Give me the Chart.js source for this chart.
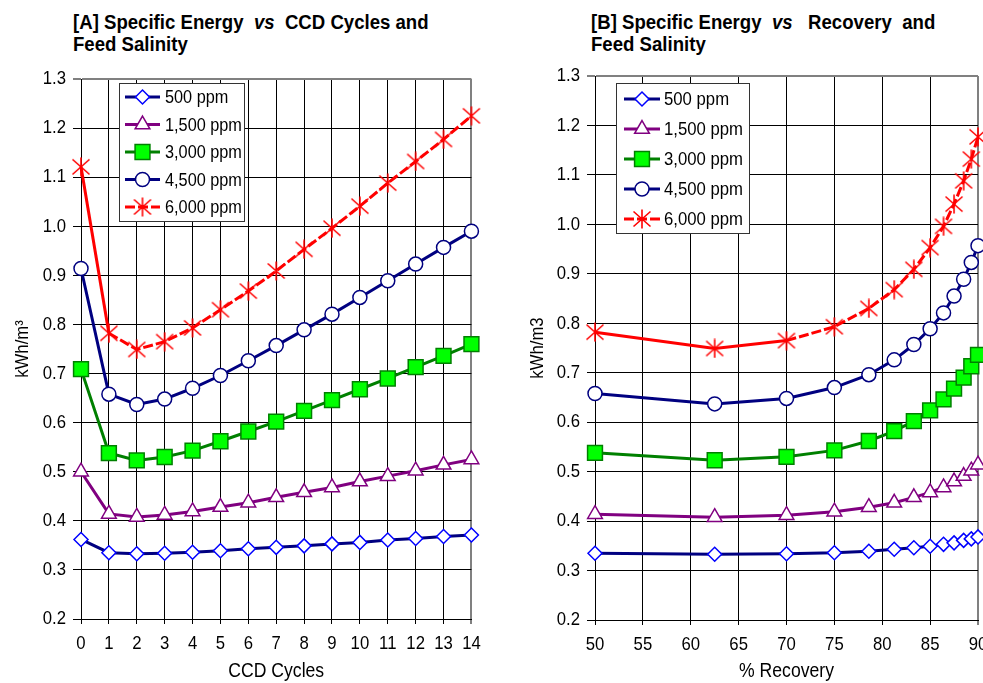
<!DOCTYPE html>
<html>
<head>
<meta charset="utf-8">
<script src="https://cdn.jsdelivr.net/npm/chart.js@4/dist/chart.umd.min.js"></script>
<style>
  html, body { margin: 0; padding: 0; background: #fff; overflow: hidden; }
  #wrap { position: relative; width: 983px; height: 683px; overflow: hidden; background: #fff; }
  .title {
    position: absolute;
    font-family: "Liberation Sans", Arial, sans-serif;
    font-weight: bold; font-size: 20px; line-height: 22px; color: #000; white-space: pre;
    transform: scaleX(0.93); transform-origin: left top;
  }
  .panel { position: absolute; top: 0; height: 683px; }
</style>
</head>
<body>
<div id="wrap">
  <div class="title" style="left:73px; top:11px;">[A] Specific Energy  <i>vs</i>  CCD Cycles and
Feed Salinity</div>
  <div class="title" style="left:591px; top:11px;">[B] Specific Energy  <i>vs</i>   Recovery  and
Feed Salinity</div>
  <div class="panel" style="left:0; width:490px;"><canvas id="chartA"></canvas></div>
  <div class="panel" style="left:515px; width:505px;"><canvas id="chartB"></canvas></div>
</div>
<script>
// CCD cycle count and the overall recovery (%) reached at that cycle count
const cycles   = [0, 1, 2, 3, 4, 5, 6, 7, 8, 9, 10, 11, 12, 13, 14];
const recovery = [null, 50, 62.5, 70, 75, 78.6, 81.25, 83.3, 85, 86.4, 87.5, 88.5, 89.3, 90, 90.6];

// Specific energy (kWh/m3) per feed salinity, one value per CCD cycle count
const se500  = [0.362, 0.335, 0.333, 0.334, 0.336, 0.339, 0.343, 0.346, 0.349, 0.353, 0.356, 0.361, 0.364, 0.368, 0.371];
const se1500 = [0.500, 0.414, 0.408, 0.412, 0.419, 0.428, 0.437, 0.448, 0.458, 0.468, 0.480, 0.491, 0.502, 0.514, 0.525];
const se3000 = [0.709, 0.538, 0.523, 0.530, 0.543, 0.562, 0.582, 0.602, 0.624, 0.646, 0.668, 0.690, 0.713, 0.736, 0.760];
const se4500 = [0.914, 0.658, 0.637, 0.648, 0.670, 0.696, 0.726, 0.757, 0.789, 0.821, 0.855, 0.889, 0.923, 0.957, 0.990];
const se6000 = [1.121, 0.782, 0.749, 0.765, 0.793, 0.830, 0.868, 0.909, 0.953, 0.996, 1.041, 1.088, 1.132, 1.177, 1.225];

const seriesNames  = ['500 ppm', '1,500 ppm', '3,000 ppm', '4,500 ppm', '6,000 ppm'];
const seriesValues = [se500, se1500, se3000, se4500, se6000];

const yMin = 0.2, yMax = 1.3, yStep = 0.1;
const xTicksB = [50, 55, 60, 65, 70, 75, 80, 85, 90];

const FONT = "'Liberation Sans', Arial, sans-serif";
const TEXT_SX = 0.88;      // horizontal squeeze applied to all canvas text
const DASH = [10, 3];

// Asterisk marker: an X with a vertical bar
function asteriskMarker(color) {
  const c = document.createElement('canvas');
  c.width = 20; c.height = 20;
  const g = c.getContext('2d');
  g.strokeStyle = color; g.lineWidth = 1.6;
  g.beginPath();
  g.moveTo(1.5, 2.5); g.lineTo(18.5, 17.5);
  g.moveTo(18.5, 2.5); g.lineTo(1.5, 17.5);
  g.moveTo(10, 0.5); g.lineTo(10, 19.5);
  g.stroke();
  return c;
}
const star = asteriskMarker('#ff0000');

const styles = [
  { line: '#000080', pointStyle: 'rectRot',  radius: 7,    fill: '#ffffff', edge: '#0000ff' },
  { line: '#800080', pointStyle: 'triangle', radius: 8.5,  fill: '#ffffff', edge: '#800080' },
  { line: '#008000', pointStyle: 'rect',     radius: 10.5, fill: '#00ff00', edge: '#008000' },
  { line: '#000080', pointStyle: 'circle',   radius: 7,    fill: '#ffffff', edge: '#000080' },
  { line: '#ff0000', pointStyle: star,       radius: 9,    fill: '#ff0000', edge: '#ff0000' }
];

function buildDatasets(xs, solidSegments) {
  return seriesValues.map((vals, i) => {
    const s = styles[i];
    const points = [];
    vals.forEach((v, k) => { if (xs[k] !== null) points.push({ x: xs[k], y: v }); });
    const ds = {
      label: seriesNames[i],
      data: points,
      borderColor: s.line,
      borderWidth: 3,
      pointStyle: s.pointStyle,
      pointRadius: s.radius,
      pointHoverRadius: s.radius,
      pointBackgroundColor: s.fill,
      pointBorderColor: s.edge,
      pointBorderWidth: 1.5,
      tension: 0,
      clip: false
    };
    if (i === 4) {
      ds.segment = { borderDash: ctx => ctx.p0DataIndex >= solidSegments ? DASH : undefined };
    }
    return ds;
  });
}

// Draws every canvas text squeezed horizontally around its anchor point
const narrowText = {
  id: 'narrowText',
  beforeInit(chart) {
    const ctx = chart.ctx;
    const orig = ctx.fillText.bind(ctx);
    ctx.fillText = function (text, x, y, maxWidth) {
      this.save();
      this.translate(x, y);
      this.scale(TEXT_SX, 1);
      if (maxWidth === undefined) orig(text, 0, 0);
      else orig(text, 0, 0, maxWidth / TEXT_SX);
      this.restore();
    };
  }
};

// Boxed legend drawn inside the plot area
const boxLegend = {
  id: 'boxLegend',
  afterDatasetsDraw(chart, args, o) {
    const ctx = chart.ctx;
    ctx.save();
    ctx.fillStyle = '#ffffff';
    ctx.fillRect(o.x, o.y, o.w, o.h);
    ctx.strokeStyle = '#333333';
    ctx.lineWidth = 1;
    ctx.strokeRect(o.x + 0.5, o.y + 0.5, o.w, o.h);
    chart.data.datasets.forEach((ds, i) => {
      const cy = o.firstRow + i * o.rowH;
      ctx.strokeStyle = ds.borderColor;
      ctx.lineWidth = ds.borderWidth;
      ctx.setLineDash(i === 4 ? DASH : []);
      ctx.beginPath();
      ctx.moveTo(o.lineX0, cy);
      ctx.lineTo(o.lineX1, cy);
      ctx.stroke();
      ctx.setLineDash([]);
      ctx.fillStyle = ds.pointBackgroundColor;
      ctx.strokeStyle = ds.pointBorderColor;
      ctx.lineWidth = ds.pointBorderWidth;
      Chart.helpers.drawPoint(ctx, {
        pointStyle: ds.pointStyle, radius: ds.pointRadius,
        borderWidth: ds.pointBorderWidth, rotation: 0
      }, (o.lineX0 + o.lineX1) / 2, cy);
      ctx.fillStyle = '#000';
      ctx.font = o.fontSize + 'px ' + FONT;
      ctx.textBaseline = 'middle';
      ctx.textAlign = 'left';
      ctx.fillText(ds.label, o.textX, cy + 1);
    });
    ctx.restore();
  }
};

const tickFont = { family: FONT, size: 19 };

function isMax(ctx, maxVal) {
  return ctx.tick && Math.abs(ctx.tick.value - maxVal) < 1e-6;
}

function makeChart(id, cfg) {
  return new Chart(document.getElementById(id), {
    type: 'line',
    data: { datasets: buildDatasets(cfg.xs, cfg.solidSegments) },
    plugins: [narrowText, boxLegend],
    options: {
      responsive: true,
      maintainAspectRatio: false,
      animation: false,
      events: [],
      layout: { padding: { top: cfg.top, right: cfg.right, bottom: 0, left: 0 } },
      plugins: {
        legend: { display: false },
        tooltip: { enabled: false },
        boxLegend: cfg.legend
      },
      scales: {
        x: {
          type: 'linear',
          min: cfg.xMin, max: cfg.xMax,
          afterBuildTicks: s => { s.ticks = cfg.xTicks.map(v => ({ value: v })); },
          ticks: { color: '#000', font: tickFont, padding: 8, autoSkip: false, maxRotation: 0 },
          grid: {
            color: c => isMax(c, cfg.xMax) ? '#808080' : '#000000',
            lineWidth: c => isMax(c, cfg.xMax) ? 2 : 1,
            tickLength: 5
          },
          border: { color: '#000', width: 1 },
          title: { display: true, text: cfg.xTitle, color: '#000', font: { family: FONT, size: 20 }, padding: { top: 0, bottom: 0 } },
          afterFit: s => { s.height = 683 - cfg.bottom; }
        },
        y: {
          min: yMin, max: yMax,
          ticks: { stepSize: yStep, color: '#000', font: tickFont, padding: 7, callback: v => v.toFixed(1) },
          grid: {
            color: c => isMax(c, yMax) ? '#808080' : '#000000',
            lineWidth: c => isMax(c, yMax) ? 2 : 1,
            tickLength: 8
          },
          border: { color: '#000', width: 1 },
          title: { display: true, text: cfg.yTitle, color: '#000', font: { family: FONT, size: 19 }, padding: { top: 11, bottom: 0 } },
          afterFit: s => { s.width = cfg.axisLeft; }
        }
      }
    }
  });
}

makeChart('chartA', {
  xs: cycles, xMin: 0, xMax: 14, xTicks: cycles, solidSegments: 1,
  top: 79, bottom: 619, right: 11, axisLeft: 81,
  xTitle: 'CCD Cycles', yTitle: 'kWh/m\u00b3',
  legend: { x: 119, y: 83, w: 125, h: 138, firstRow: 97, rowH: 27.5, lineX0: 125, lineX1: 160, textX: 165, fontSize: 18.5 }
});

makeChart('chartB', {
  xs: recovery, xMin: 50, xMax: 90, xTicks: xTicksB, solidSegments: 2,
  top: 76, bottom: 620, right: 42, axisLeft: 80,
  xTitle: '% Recovery', yTitle: 'kWh/m3',
  legend: { x: 101, y: 83, w: 133, h: 150, firstRow: 99, rowH: 30, lineX0: 109, lineX1: 145, textX: 149, fontSize: 19 }
});
</script>
</body>
</html>
